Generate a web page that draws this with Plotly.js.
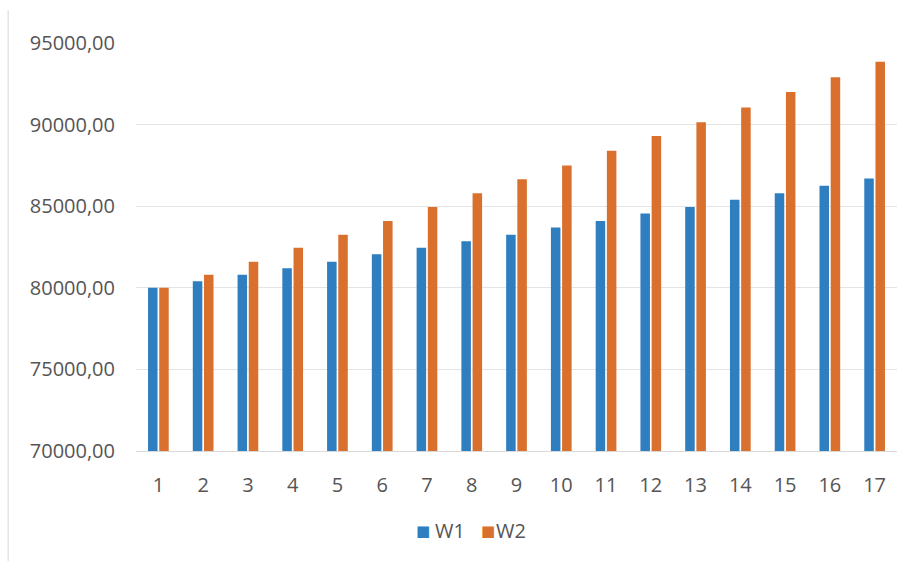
<!DOCTYPE html>
<html><head><meta charset="utf-8">
<script src="https://cdn.plot.ly/plotly-3.0.1.min.js"></script>
<style>html,body{margin:0;padding:0;background:#fff;}#c{width:917px;height:563px;}</style>
</head><body><div id="c"></div>
<script>
var categories = ["1","2","3","4","5","6","7","8","9","10","11","12","13","14","15","16","17"];
var seriesNames = ["W1","W2"];
var seriesColors = ["#2E7EC0","#D9702E"];
var w1 = [80000,80400,80800,81200,81600,82050,82450,82850,83250,83700,84100,84550,84950,85400,85800,86250,86700];
var w2 = [80000,80800,81600,82450,83250,84100,84950,85800,86650,87500,88400,89300,90150,91050,92000,92900,93850];
var yTicks = [70000,75000,80000,85000,90000,95000];
var yTickText = yTicks.map(function(v){return v.toFixed(2).replace('.',',');});

var data = [
  {type:'bar', name:seriesNames[0], x:categories, y:w1, marker:{color:seriesColors[0]}},
  {type:'bar', name:seriesNames[1], x:categories, y:w2, marker:{color:seriesColors[1]}}
];
// legend drawn as annotations (compact, Excel-like)
var legX = [[0.377,0.390],[0.4625,0.471]];
var annotations = [];
seriesNames.forEach(function(n,i){
  annotations.push({xref:'paper', yref:'paper', x:legX[i][0], y:-0.196, xanchor:'center', yanchor:'middle', showarrow:false, text:'■', font:{size:15, color:seriesColors[i], family:'DejaVu Sans'}});
  annotations.push({xref:'paper', yref:'paper', x:legX[i][1], y:-0.196, xanchor:'left', yanchor:'middle', showarrow:false, text:n, font:{size:20, color:'#555'}});
});
var layout = {
  width:917, height:563,
  margin:{l:136, r:20, t:43, b:112},
  paper_bgcolor:'#fff', plot_bgcolor:'#fff',
  barmode:'group', bargap:0.5, bargroupgap:0.15,
  font:{family:'"Open Sans", "DejaVu Sans", sans-serif', color:'#555', size:20},
  xaxis:{type:'category', showgrid:false, zeroline:false, showline:true, linecolor:'#d9d9d9', ticks:'', ticklabelstandoff:16, tickfont:{size:20,color:'#555'}, automargin:false},
  yaxis:{range:[70000,95000], tickvals:yTicks, ticktext:yTickText, showgrid:true, gridcolor:'#e4e4e4', zeroline:false, showline:false, ticks:'', ticklabelstandoff:20, tickfont:{size:20,color:'#555'}, automargin:false},
  showlegend:false,
  annotations:annotations,
  shapes:[{type:'line', xref:'paper', yref:'paper', x0:-0.168, x1:-0.168, y0:-0.27, y1:1.08, line:{color:'#d0d8d8', width:1}}]
};
Plotly.newPlot('c', data, layout, {displayModeBar:false, staticPlot:true});
</script>
</body></html>
